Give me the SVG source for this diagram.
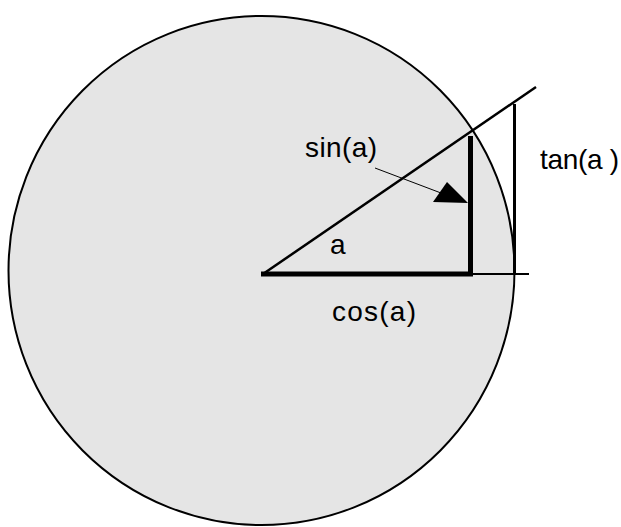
<svg xmlns="http://www.w3.org/2000/svg" width="621" height="527" viewBox="0 0 621 527">
<style>
.lbl{font-family:"Liberation Sans",Arial,sans-serif;font-size:28px;fill:#000}
.ln{stroke:#000;fill:none}
</style>
<rect width="621" height="527" fill="#fff"/>
<g id="circle">
<ellipse cx="261.5" cy="270.5" rx="253" ry="254.5" fill="#e5e5e5" stroke="#000" stroke-width="2"/>
</g>
<g id="connectors">
<line class="ln" x1="263" y1="274" x2="536" y2="87" stroke-width="2.5"/>
<line class="ln" x1="470" y1="274" x2="529" y2="274" stroke-width="2"/>
<line class="ln" x1="514.5" y1="104" x2="514.5" y2="274" stroke-width="3"/>
<line class="ln" x1="261" y1="274" x2="473" y2="274" stroke-width="5"/>
<line class="ln" x1="470.5" y1="136" x2="470.5" y2="276" stroke-width="5"/>
<line class="ln" x1="375" y1="168" x2="441" y2="193" stroke-width="1"/>
<polygon points="468,203 433,202 447,182" fill="#000"/>
</g>
<g id="labels">
<text class="lbl" x="305" y="157" textLength="72">sin(a)</text>
<text class="lbl" x="540" y="169" textLength="79">tan(a )</text>
<text class="lbl" x="330" y="254" font-size="29">a</text>
<text class="lbl" x="332" y="321" textLength="84">cos(a)</text>
</g>
</svg>
